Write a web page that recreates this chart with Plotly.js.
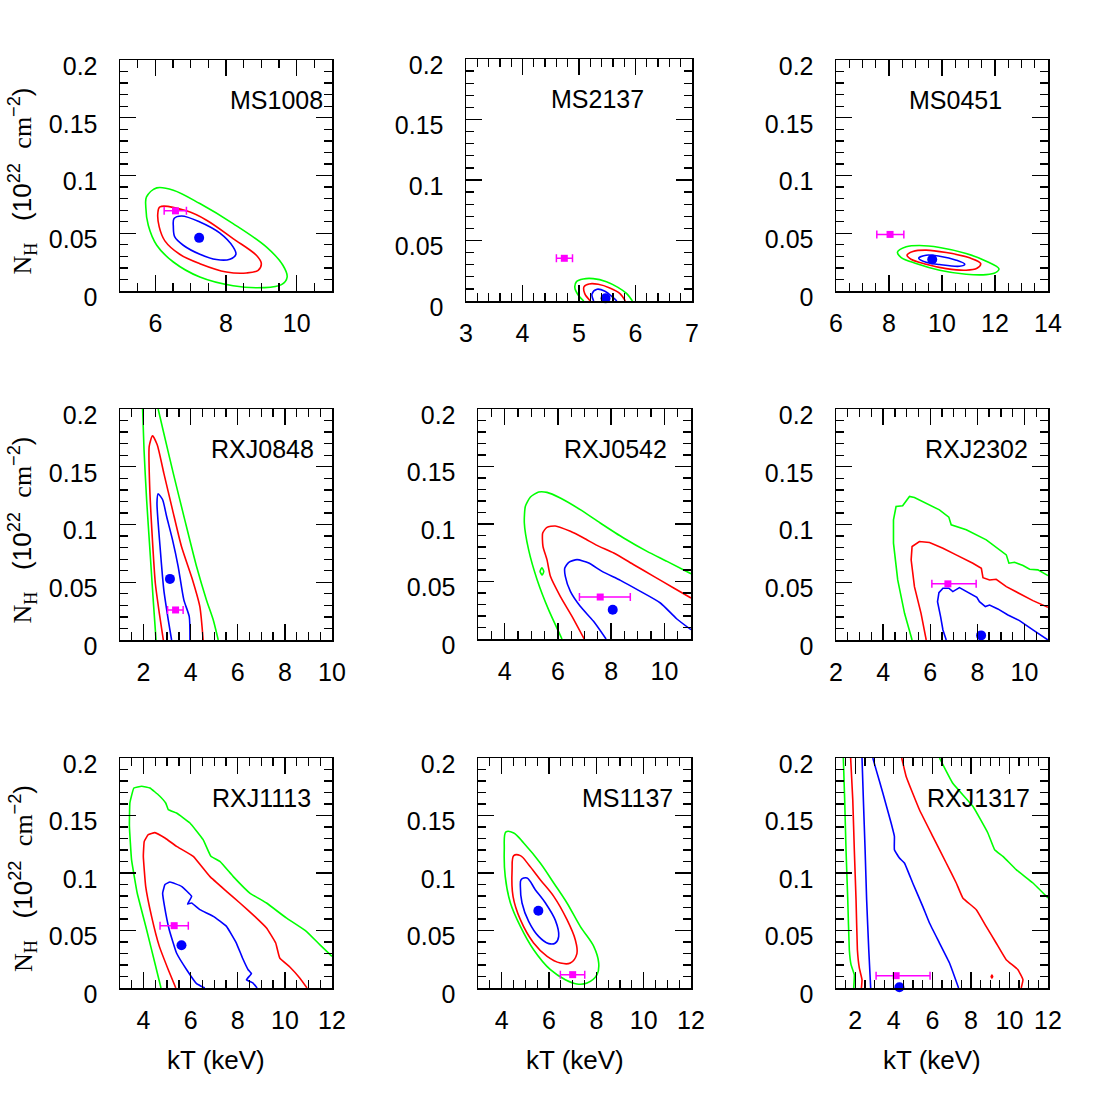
<!DOCTYPE html>
<html>
<head>
<meta charset="utf-8">
<script src="https://cdn.plot.ly/plotly-3.0.1.min.js"></script>
<style>
	body  { margin: 0; background: white; }
	#plot { width: 1107px; height: 1107px; }
</style>
</head>
<body>
<div id="plot"></div>
<script>
/*
kT - NH confidence contours, 3x3 grid of clusters
*/

const PAGE          = 1107;
const FONT          = 'Liberation Sans, Arial, Helvetica, sans-serif';
const SERIF         = 'Liberation Serif, Times New Roman, serif';
const TICK_SIZE     = 25;
const LABEL_SIZE    = 25;
const TITLE_SIZE    = 26;
const LEVEL_COLORS  = [ '#0000ff', '#ff0000', '#00ff00' ];
const BEST_COLOR    = '#0000ff';
const FIX_COLOR     = '#ff00ff';
const CONTOUR_WIDTH = 1.6;

// ---- data -------------------------------------------------------------
const CLUSTERS  = [ 'MS1008', 'MS2137', 'MS0451',
                    'RXJ0848', 'RXJ0542', 'RXJ2302',
                    'RXJ1113', 'MS1137', 'RXJ1317' ];
const KT_RANGES = [ [ 5, 11 ], [ 3, 7 ], [ 6, 14 ],
                    [ 1, 10 ], [ 3, 11 ], [ 2, 11 ],
                    [ 3, 12 ], [ 3, 12 ], [ 1, 12 ] ];
const KT_DTICK  = [ 2, 1, 2, 2, 2, 2, 2, 2, 2 ];
const KT_MINOR  = [ 0.5, 0.2, 0.5, 0.5, 0.5, 0.5, 0.5, 0.5, 0.5 ];
const NH_RANGE  = [ 0, 0.2 ];
const NH_DTICK  = 0.05;
const NH_MINOR  = 0.01;

// best fit with free NH (blue dot)
const BEST_KT = [ 7.24, 5.47, 9.63, 3.12, 8.06, 8.16, 5.61, 5.55, 4.29 ];
const BEST_NH = [ 0.046, 0.0022, 0.0272, 0.0529, 0.0255, 0.004, 0.0371, 0.0672, 0.0006 ];

// fit with NH fixed (magenta square, kT error bar)
const FIX_KT    = [ 6.57, 4.74, 8.04, 3.36, 7.59, 6.75, 5.30, 7.00, 4.12 ];
const FIX_KT_LO = [ 6.25, 4.60, 7.54, 3.02, 6.81, 6.07, 4.70, 6.48, 3.08 ];
const FIX_KT_HI = [ 6.88, 4.885, 8.56, 3.68, 8.72, 7.95, 5.90, 7.51, 5.88 ];
const FIX_NH    = [ 0.0694, 0.0353, 0.049, 0.026, 0.0365, 0.0486, 0.0542, 0.0116, 0.0107 ];

// contours, [ kT, NH ] pairs, null breaks a line
const MS1008_BLUE  = [ [6.53,0.0627],[6.74,0.0650],[7.26,0.0598],[7.82,0.0503],[8.20,0.0382],[8.28,0.0318],[8.11,0.0275],[7.73,0.0272],[7.26,0.0318],[6.79,0.0396],[6.55,0.0468],[6.51,0.0555],[6.53,0.0627] ];
const MS1008_RED   = [ [6.13,0.0728],[6.88,0.0694],[7.45,0.0613],[8.20,0.0454],[8.86,0.0309],[9.00,0.0237],[8.91,0.0179],[8.58,0.0156],[8.01,0.0165],[7.26,0.0237],[6.69,0.0318],[6.27,0.0434],[6.11,0.0555],[6.07,0.0671],[6.13,0.0728] ];
const MS1008_GREEN = [ [5.75,0.0815],[6.04,0.0893],[6.51,0.0873],[7.26,0.0757],[8.20,0.0584],[9.14,0.0382],[9.61,0.0223],[9.73,0.0121],[9.57,0.0055],[9.05,0.0029],[8.20,0.0046],[7.26,0.0121],[6.51,0.0251],[6.04,0.0396],[5.80,0.0569],[5.73,0.0728],[5.75,0.0815] ];

const MS2137_BLUE  = [ [5.26,0],[5.23,0.0058],[5.32,0.0097],[5.46,0.0080],[5.60,0.0030],[5.67,0] ];
const MS2137_RED   = [ [5.20,0],[5.10,0.0063],[5.09,0.0119],[5.18,0.0141],[5.34,0.0138],[5.545,0.0108],[5.72,0.0063],[5.82,0] ];
const MS2137_GREEN = [ [5.085,0],[4.985,0.0050],[4.926,0.0113],[4.956,0.0160],[5.074,0.0182],[5.25,0.0185],[5.486,0.0160],[5.69,0.0113],[5.84,0.0063],[5.945,0] ];

const MS0451_BLUE  = [ [9.12,0.0284],[9.40,0.0310],[9.91,0.0301],[10.54,0.0267],[10.86,0.0232],[10.66,0.0214],[9.91,0.0229],[9.40,0.0249],[9.12,0.0284] ];
const MS0451_RED   = [ [8.68,0.0310],[8.90,0.0342],[9.40,0.0354],[10.16,0.0333],[11.04,0.0287],[11.46,0.0238],[11.32,0.0197],[10.91,0.0180],[10.16,0.0194],[9.40,0.0232],[8.83,0.0275],[8.68,0.0310] ];
const MS0451_GREEN = [ [8.32,0.0336],[8.65,0.0383],[9.15,0.0394],[9.91,0.0377],[10.91,0.0325],[11.67,0.0258],[12.15,0.0191],[12.02,0.0159],[11.67,0.0142],[10.91,0.0145],[9.91,0.0180],[9.02,0.0238],[8.46,0.0290],[8.32,0.0336] ];

const RXJ0848_BLUE  = [ [3.19,0],[3.05,0.0173],[2.86,0.0434],[2.70,0.0809],[2.57,0.1185],[2.62,0.1266],[2.81,0.1214],[2.98,0.1069],[3.23,0.0867],[3.47,0.0636],[3.71,0.0347],[3.94,0.0202],[3.97,0] ];
const RXJ0848_RED   = [ [2.84,0],[2.67,0.0231],[2.50,0.0491],[2.36,0.0925],[2.26,0.133],[2.24,0.1676],[2.38,0.1769],[2.58,0.169],[2.86,0.1445],[3.23,0.1127],[3.61,0.0809],[4.08,0.052],[4.39,0.0289],[4.53,0] ];
const RXJ0848_GREEN = [ [2.53,0],[2.41,0.0347],[2.27,0.078],[2.13,0.1214],[2.02,0.1647],[1.96,0.2],null,[2.62,0.2],[2.86,0.179],[3.26,0.1445],[3.75,0.104],[4.25,0.0636],[4.67,0.0347],[4.96,0.0173],[5.17,0] ];

const RXJ0542_BLUE  = [ [7.81,0],[7.34,0.0154],[6.84,0.0284],[6.47,0.0414],[6.28,0.0545],[6.26,0.0617],[6.41,0.0667],[6.72,0.069],[7.16,0.0661],[7.66,0.0588],[8.35,0.051],[9.10,0.0414],[9.85,0.0313],[10.47,0.0174],[11.0,0.0081] ];
const RXJ0542_RED   = [ [6.99,0],[6.53,0.0197],[6.09,0.0371],[5.72,0.0545],[5.59,0.069],[5.44,0.0806],[5.43,0.0922],[5.59,0.0971],[5.90,0.0983],[6.47,0.0936],[6.97,0.0878],[7.47,0.0814],[8.10,0.0748],[8.85,0.0646],[9.60,0.0545],[10.35,0.0443],[11.0,0.0357] ];
const RXJ0542_GREEN = [ [6.155,0],[5.65,0.0255],[5.22,0.0516],[4.90,0.0777],[4.74,0.1009],[4.78,0.1154],[4.97,0.1235],[5.28,0.1278],[5.59,0.1275],[6.09,0.1226],[6.84,0.1125],[7.59,0.1009],[8.47,0.0878],[9.35,0.0762],[10.10,0.0675],[11.0,0.0568],null,[5.33,0.0588],[5.40,0.0620],[5.47,0.0588],[5.41,0.0556],[5.33,0.0588] ];

const RXJ2302_BLUE  = [ [6.68,0],[6.54,0.0087],[6.44,0.0202],[6.31,0.0332],[6.37,0.041],[6.54,0.0448],[6.79,0.0448],[6.96,0.0419],[7.24,0.0454],[7.60,0.0413],[7.98,0.037],[8.09,0.0332],[8.34,0.0289],[8.52,0.0303],[8.87,0.0269],[9.30,0.0217],[9.79,0.0168],[10.36,0.0087],[11.0,0] ];
const RXJ2302_RED   = [ [5.83,0],[5.61,0.0231],[5.33,0.0462],[5.19,0.0694],[5.23,0.0809],[5.54,0.0853],[5.97,0.0844],[6.54,0.0795],[7.10,0.0737],[7.81,0.0665],[8.17,0.0621],[8.24,0.054],[8.52,0.052],[8.80,0.0526],[9.23,0.0462],[9.79,0.0399],[10.36,0.0341],[11.0,0.0283] ];
const RXJ2302_GREEN = [ [5.23,0],[4.91,0.0231],[4.62,0.052],[4.44,0.0838],[4.44,0.104],[4.55,0.1156],[4.83,0.1162],[5.12,0.1243],[5.33,0.1234],[5.83,0.1185],[6.39,0.1127],[6.79,0.1064],[6.89,0.0997],[7.53,0.0954],[8.38,0.0867],[9.23,0.0737],[9.34,0.0665],[9.58,0.0673],[9.94,0.0645],[10.22,0.0613],[10.57,0.0607],[11.0,0.0558] ];

const RXJ1113_BLUE  = [ [6.60,0],[6.25,0.0038],[5.83,0.0159],[5.40,0.0304],[5.09,0.0507],[4.89,0.071],[4.81,0.0826],[4.91,0.0899],[5.12,0.0922],[5.61,0.0884],[6.04,0.0797],[5.87,0.073],[6.04,0.0739],[6.39,0.0681],[6.96,0.0623],[7.52,0.0536],[7.94,0.0391],[8.20,0.0261],[8.44,0.0159],[8.58,0.0125],[8.37,0.0072],[8.65,0.0043],[8.82,0] ];
const RXJ1113_RED   = [ [5.37,0],[5.05,0.0159],[4.67,0.0362],[4.34,0.0623],[4.09,0.0884],[3.99,0.1145],[4.03,0.1275],[4.20,0.1333],[4.48,0.1351],[4.91,0.1304],[5.40,0.1232],[6.11,0.1145],[6.81,0.0971],[7.52,0.0841],[8.09,0.0739],[8.72,0.0623],[9.22,0.0522],[9.61,0.0391],[9.78,0.0261],[10.21,0.0183],[10.63,0.0087],[10.94,0] ];
const RXJ1113_GREEN = [ [4.74,0],[4.48,0.0217],[4.13,0.0507],[3.73,0.0826],[3.49,0.1116],[3.40,0.1406],[3.42,0.1609],[3.59,0.1739],[3.92,0.1754],[4.27,0.1739],[4.67,0.1672],[4.94,0.1609],[5.05,0.1551],[5.40,0.1522],[5.97,0.1435],[6.53,0.129],[6.86,0.1145],[7.24,0.1101],[7.80,0.0971],[8.51,0.0826],[9.22,0.0739],[10.06,0.0609],[10.91,0.0493],[11.48,0.0377],[12.0,0.0275] ];

const MS1137_BLUE  = [ [4.82,0.0942],[5.07,0.0957],[5.42,0.0855],[5.85,0.0739],[6.27,0.0588],[6.41,0.0449],[6.27,0.0391],[5.99,0.0386],[5.56,0.0449],[5.14,0.058],[4.86,0.0739],[4.79,0.0884],[4.82,0.0942] ];
const MS1137_RED   = [ [4.51,0.1151],[4.79,0.1151],[5.14,0.1072],[5.63,0.0942],[6.20,0.0797],[6.76,0.0594],[7.11,0.042],[7.18,0.0299],[6.90,0.0217],[6.48,0.0217],[5.92,0.0275],[5.35,0.0391],[4.79,0.0594],[4.48,0.0797],[4.44,0.1029],[4.51,0.1151] ];
const MS1137_GREEN = [ [4.18,0.1357],[4.51,0.1348],[4.93,0.1261],[5.63,0.1087],[6.20,0.0913],[6.76,0.0739],[7.32,0.0536],[7.89,0.0362],[8.10,0.0217],[8.03,0.0116],[7.61,0.0043],[7.18,0.0035],[6.69,0.0072],[6.06,0.0159],[5.35,0.0333],[4.79,0.0536],[4.37,0.0739],[4.15,0.0971],[4.11,0.1203],[4.18,0.1357] ];

const RXJ1317_BLUE  = [ [2.35,0.2],[2.42,0.1638],[2.51,0.1203],[2.59,0.0768],[2.70,0.0333],[2.80,0],null,[2.91,0.2],[3.08,0.1899],[3.43,0.1696],[3.86,0.1435],[4.03,0.1319],[4.03,0.1203],[4.29,0.113],[4.55,0.1087],[4.98,0.0913],[5.50,0.071],[5.85,0.0565],[6.37,0.0391],[6.89,0.0217],[7.36,0] ];
const RXJ1317_RED   = [ [1.76,0.2],[1.87,0.1638],[1.95,0.1203],[2.04,0.0768],[2.11,0.0333],[2.21,0.0174],[2.35,0.0072],[2.32,0],null,[4.41,0.2],[4.64,0.184],[5.33,0.155],[6.02,0.1319],[6.72,0.1087],[7.24,0.0913],[7.58,0.0783],[8.28,0.0681],[8.79,0.0536],[9.31,0.0391],[9.83,0.0246],[10.44,0.0159],[10.70,0.0072],[10.61,0],null,[9.05,0.0099],[9.09,0.0112],[9.13,0.0099],[9.09,0.0086],[9.05,0.0099] ];
const RXJ1317_GREEN = [ [1.38,0.2],[1.45,0.1638],[1.52,0.1203],[1.61,0.0768],[1.69,0.0333],[1.78,0.0203],[1.95,0.0116],[1.92,0],null,[6.37,0.2],[7.06,0.178],[8.10,0.158],[8.88,0.1348],[9.23,0.1203],[9.66,0.1145],[10.35,0.1029],[11.22,0.0913],[12.0,0.0783] ];

const CONTOURS = [
	[ MS1008_BLUE,  MS1008_RED,  MS1008_GREEN  ],
	[ MS2137_BLUE,  MS2137_RED,  MS2137_GREEN  ],
	[ MS0451_BLUE,  MS0451_RED,  MS0451_GREEN  ],
	[ RXJ0848_BLUE, RXJ0848_RED, RXJ0848_GREEN ],
	[ RXJ0542_BLUE, RXJ0542_RED, RXJ0542_GREEN ],
	[ RXJ2302_BLUE, RXJ2302_RED, RXJ2302_GREEN ],
	[ RXJ1113_BLUE, RXJ1113_RED, RXJ1113_GREEN ],
	[ MS1137_BLUE,  MS1137_RED,  MS1137_GREEN  ],
	[ RXJ1317_BLUE, RXJ1317_RED, RXJ1317_GREEN ]
];

// ---- layout (pixel boxes of each panel: left, top, right, bottom) -----
const BOXES = [
	[ 120,  60, 332, 291 ], [ 466,  59, 692, 301 ], [ 836,  60, 1048, 291 ],
	[ 120, 409, 332, 640 ], [ 478, 409, 691, 639 ], [ 836, 409, 1048, 640 ],
	[ 120, 758, 332, 988 ], [ 478, 758, 691, 988 ], [ 836, 758, 1048, 988 ]
];
const LABEL_X   = [ 0.737, 0.582, 0.563, 0.67, 0.647, 0.665, 0.668, 0.70, 0.673 ];
const SMOOTHING = [ 1, 1, 1, 0.6, 0.6, 0, 0.3, 1, 0.3 ];

function ax_id( prefix, n ) { return n === 0 ? prefix : prefix + ( n + 1 ); }

function make_contour_traces( n ) {
	return CONTOURS[ n ].map( function( pts, k ) {
		return {
			x        : pts.map( p => p ? p[ 0 ] : null ),
			y        : pts.map( p => p ? p[ 1 ] : null ),
			mode     : 'lines',
			line     : { color: LEVEL_COLORS[ k ], width: CONTOUR_WIDTH,
			             shape: SMOOTHING[ n ] ? 'spline' : 'linear',
			             smoothing: SMOOTHING[ n ] },
			type     : 'scatter',
			hoverinfo: 'skip',
			xaxis    : ax_id( 'x', n ),
			yaxis    : ax_id( 'y', n )
		};
	} );
}

function make_point_traces( n ) {
	return [ {
		x         : [ FIX_KT[ n ] ],
		y         : [ FIX_NH[ n ] ],
		mode      : 'markers',
		marker    : { symbol: 'square', size: 7, color: FIX_COLOR },
		error_x   : { type: 'data', symmetric: false,
		              array: [ FIX_KT_HI[ n ] - FIX_KT[ n ] ],
		              arrayminus: [ FIX_KT[ n ] - FIX_KT_LO[ n ] ],
		              color: FIX_COLOR, thickness: 1.5, width: 4 },
		type      : 'scatter',
		cliponaxis: false,
		xaxis     : ax_id( 'x', n ),
		yaxis     : ax_id( 'y', n )
	},
	{
		x         : [ BEST_KT[ n ] ],
		y         : [ BEST_NH[ n ] ],
		mode      : 'markers',
		marker    : { symbol: 'circle', size: 10, color: BEST_COLOR },
		type      : 'scatter',
		cliponaxis: false,
		xaxis     : ax_id( 'x', n ),
		yaxis     : ax_id( 'y', n )
	} ];
}

function axis_common() {
	return {
		showline : true, linecolor: 'black', linewidth: 1.5, mirror: 'allticks',
		ticks    : 'inside', ticklen: 16, tickwidth: 1.3, tickcolor: 'black',
		showgrid : false, zeroline: false, fixedrange: true,
		tickfont : { family: FONT, size: TICK_SIZE, color: 'black' }
	};
}

function make_axes( n ) {
	let b = BOXES[ n ];
	let x = Object.assign( axis_common(), {
		domain   : [ b[ 0 ] / PAGE, b[ 2 ] / PAGE ],
		range    : KT_RANGES[ n ],
		tick0    : 0, dtick: KT_DTICK[ n ],
		minor    : { dtick: KT_MINOR[ n ], ticks: 'inside', ticklen: 8,
		             tickwidth: 1.3, tickcolor: 'black' },
		ticklabelstandoff: 9,
		anchor   : ax_id( 'y', n )
	} );
	let y = Object.assign( axis_common(), {
		domain   : [ 1 - b[ 3 ] / PAGE, 1 - b[ 1 ] / PAGE ],
		range    : NH_RANGE,
		tick0    : 0, dtick: NH_DTICK,
		minor    : { dtick: NH_MINOR, ticks: 'inside', ticklen: 8,
		             tickwidth: 1.3, tickcolor: 'black' },
		ticklabelstandoff: 16,
		ticklabelshift   : 6,
		anchor   : ax_id( 'x', n )
	} );
	return [ x, y ];
}

function make_annotations() {
	let notes = [];
	for ( let n = 0; n < CLUSTERS.length; n++ ) {
		let b = BOXES[ n ];
		notes.push( {
			text: CLUSTERS[ n ], showarrow: false,
			xref: ax_id( 'x', n ) + ' domain', yref: ax_id( 'y', n ) + ' domain',
			x: LABEL_X[ n ], y: 1 - 40 / ( b[ 3 ] - b[ 1 ] ),
			xanchor: 'center', yanchor: 'middle',
			font: { family: FONT, size: LABEL_SIZE, color: 'black' }
		} );
	}
	let ytitle = '<span style="font-family:' + SERIF + '">N<sub>H</sub></span>&nbsp;&nbsp;&nbsp;(10<sup>22</sup>&nbsp;&nbsp;'
	           + '<span style="font-family:' + SERIF + '">cm</span><sup>−2</sup>)';
	[ 0, 3, 6 ].forEach( function( n ) {
		let b = BOXES[ n ];
		notes.push( {
			text: ytitle, showarrow: false, textangle: -90,
			xref: 'paper', yref: 'paper',
			x: 23 / PAGE, y: 1 - ( ( b[ 1 ] + b[ 3 ] ) / 2 + 6 ) / PAGE,
			xanchor: 'center', yanchor: 'middle',
			font: { family: FONT, size: TITLE_SIZE, color: 'black' }
		} );
	} );
	[ 6, 7, 8 ].forEach( function( n ) {
		let b = BOXES[ n ];
		notes.push( {
			text: 'kT (keV)', showarrow: false,
			xref: 'paper', yref: 'paper',
			x: ( ( b[ 0 ] + b[ 2 ] ) / 2 - 10 ) / PAGE, y: 1 - 1060 / PAGE,
			xanchor: 'center', yanchor: 'middle',
			font: { family: FONT, size: TITLE_SIZE, color: 'black' }
		} );
	} );
	return notes;
}

let traces = [];
let layout = {
	width        : PAGE,
	height       : PAGE,
	showlegend   : false,
	margin       : { l: 0, r: 0, t: 0, b: 0 },
	paper_bgcolor: 'white',
	plot_bgcolor : 'white',
	annotations  : make_annotations()
};

for ( let n = 0; n < CLUSTERS.length; n++ ) {
	traces.push( ...make_contour_traces( n ) );
	traces.push( ...make_point_traces( n ) );
	let axes = make_axes( n );
	layout[ ax_id( 'xaxis', n ) ] = axes[ 0 ];
	layout[ ax_id( 'yaxis', n ) ] = axes[ 1 ];
}

Plotly.newPlot( 'plot', traces, layout, { displayModeBar: false, staticPlot: true } );
</script>
</body>
</html>
